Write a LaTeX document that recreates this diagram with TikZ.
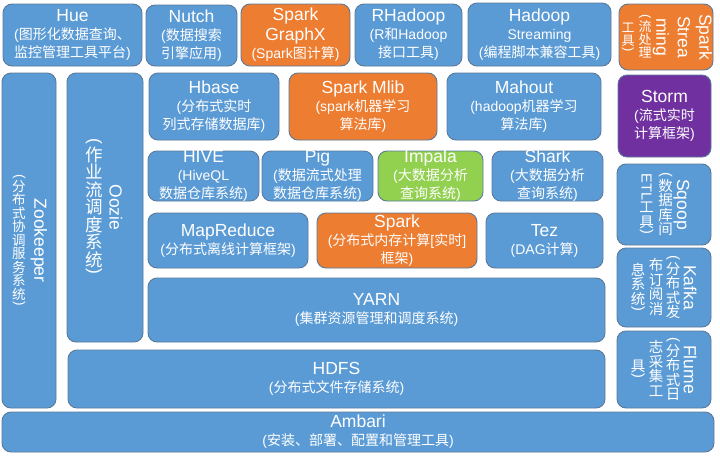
\documentclass[tikz,border=0pt]{standalone}
\usepackage{fontspec}
\usepackage{graphicx}
\setmainfont{Liberation Sans}
\newfontfamily\cjk{Noto Sans CJK SC}

\definecolor{bluefill}{HTML}{5B9BD5}
\definecolor{orangefill}{HTML}{ED7D31}
\definecolor{greenfill}{HTML}{92D050}
\definecolor{purplefill}{HTML}{7030A0}
\definecolor{edgecol}{HTML}{5A7A9C}

% text helpers
\newcommand{\zh}[1]{{\cjk #1}}
\newcommand{\hdr}[1]{{\fontsize{17.5}{19}\selectfont #1}}
\newcommand{\vhdr}[1]{$\vcenter{\hbox to 0pt{\hss\rotatebox[origin=c]{-90}{\hdr{#1}}\hss}}$}
\newcommand{\vbit}[1]{\hbox to 0pt{\hss\rotatebox[origin=c]{-90}{\rmfamily #1}\hss}}
\newcommand{\vchar}[1]{\hbox to 0pt{\hss\vrule height .86em depth .14em width 0pt #1\hss}}
\newcommand{\vchars}[1]{\vcharsloop#1\relax}
\def\vcharsloop#1{\ifx\relax#1\else\vchar{#1}\expandafter\vcharsloop\fi}
\newcommand{\vcolumn}[2][14.5]{$\vcenter{\cjk\fontsize{#1}{#1}\selectfont\baselineskip=0pt\lineskip=0pt\lineskiplimit=0pt #2}$}

% box from (x1,y1) to (x2,y2), text at its centre
\newcommand{\blk}[7]{%
  \node[box=#2, minimum width={(#5)-(#3)}, minimum height={(#6)-(#4)}] (#1) at ({((#3)+(#5))/2},{((#4)+(#6))/2}) {};
  \node[lbl] (#1-txt) at (#1.center) {#7};
}

\begin{document}
\begin{tikzpicture}[x=1pt,y=-1pt,
  box/.style={draw=edgecol, line width=0.9pt, rounded corners=9pt, fill=#1, inner sep=0pt, outer sep=0pt},
  lbl/.style={text=white, align=center, inner sep=0pt, font=\fontsize{14}{18}\selectfont}]

\useasboundingbox (0,0) rectangle (720,461);
\fill[white] (0,0) rectangle (720,461);

% top row
\blk{hue}{bluefill}{3}{4}{142}{66}{\hdr{Hue}\\(\zh{图形化数据查询、}\\\zh{监控管理工具平台})}
\blk{nutch}{bluefill}{146}{5}{237}{66}{\hdr{Nutch}\\(\zh{数据搜索}\\\zh{引擎应用})}
\blk{graphx}{orangefill}{241}{4}{350}{66}{\hdr{Spark}\\[2pt]\hdr{GraphX}\\(Spark\zh{图计算})}
\blk{rhadoop}{bluefill}{355}{4}{462}{66}{\hdr{RHadoop}\\(R\zh{和}Hadoop\\\zh{接口工具})}
\blk{hstream}{bluefill}{468}{3}{611}{66}{\hdr{Hadoop}\\Streaming\\(\zh{编程脚本兼容工具})}
\blk{sstream}{orangefill}{619}{4}{713}{70}{\vcolumn[13]{\vchars{工具}\vbit{)}}\hspace{17pt}\vcolumn[13]{\vbit{(}\vchars{流处理}}\hspace{16pt}\vhdr{ming}\hspace{23pt}\vhdr{Strea}\hspace{20pt}\vhdr{Spark}}

% left columns
\blk{zk}{bluefill}{2}{73}{56}{408}{\vcolumn[13.5]{\vbit{(}\vchars{分布式协调服务系统}\vbit{)}}\hspace{20pt}\vhdr{Zookeeper}}
\blk{oozie}{bluefill}{67}{73}{143}{342}{\vcolumn[17.5]{\vbit{(}\vchars{作业流调度系统}\vbit{)}}\hspace{22pt}\vhdr{Oozie}}

% middle rows
\blk{hbase}{bluefill}{149}{73}{279}{140}{\hdr{Hbase}\\(\zh{分布式实时}\\\zh{列式存储数据库})}
\blk{mlib}{orangefill}{289}{73}{437}{140}{\hdr{Spark Mlib}\\(spark\zh{机器学习}\\\zh{算法库})}
\blk{mahout}{bluefill}{447}{73}{601}{140}{\hdr{Mahout}\\(hadoop\zh{机器学习}\\\zh{算法库})}

\blk{hive}{bluefill}{148}{151}{259}{201}{\hdr{HIVE}\\(HiveQL\\\zh{数据仓库系统})}
\blk{pig}{bluefill}{262}{151}{373}{201}{\hdr{Pig}\\(\zh{数据流式处理}\\\zh{数据仓库系统})}
\blk{impala}{greenfill}{378}{151}{483}{201}{\hdr{Impala}\\(\zh{大数据分析}\\\zh{查询系统})}
\blk{shark}{bluefill}{492}{151}{603}{201}{\hdr{Shark}\\(\zh{大数据分析}\\\zh{查询系统})}

\blk{mapred}{bluefill}{148}{213}{308}{268}{\hdr{MapReduce}\\(\zh{分布式离线计算框架})}
\blk{spark}{orangefill}{317}{213}{477}{268}{\hdr{Spark}\\(\zh{分布式内存计算}[\zh{实时}]\\\zh{框架})}
\blk{tez}{bluefill}{486}{213}{603}{268}{\hdr{Tez}\\(DAG\zh{计算})}

\blk{yarn}{bluefill}{148}{278}{605}{342}{\hdr{YARN}\\(\zh{集群资源管理和调度系统})}
\blk{hdfs}{bluefill}{68}{350}{605}{408}{\hdr{HDFS}\\(\zh{分布式文件存储系统})}
\blk{ambari}{bluefill}{2}{412}{714}{452}{\hdr{Ambari}\\(\zh{安装、部署、配置和管理工具})}

% right column
\blk{storm}{purplefill}{618}{75}{711}{157}{\hdr{Storm}\\(\zh{流式实时}\\\zh{计算框架})}
\blk{sqoop}{bluefill}{617}{164}{711}{245}{\vcolumn{\vbit{ETL}\vchars{工具}\vbit{)}}\hspace{19pt}\vcolumn{\vbit{(}\vchars{数据库间}}\hspace{16pt}\vhdr{Sqoop}}
\blk{kafka}{bluefill}{617}{248}{711}{327}{\vcolumn{\vchars{息系统}\vbit{)}}\hspace{18pt}\vcolumn{\vchars{布订阅消}}\hspace{17pt}\vcolumn{\vbit{(}\vchars{分布式发}}\hspace{17pt}\vhdr{Kafka}}
\blk{flume}{bluefill}{617}{331}{711}{408}{\vcolumn{\vchars{具}\vbit{)}}\hspace{18pt}\vcolumn{\vchars{志采集工}}\hspace{17pt}\vcolumn{\vbit{(}\vchars{分布式日}}\hspace{17pt}\vhdr{Flume}}

\end{tikzpicture}
\end{document}
